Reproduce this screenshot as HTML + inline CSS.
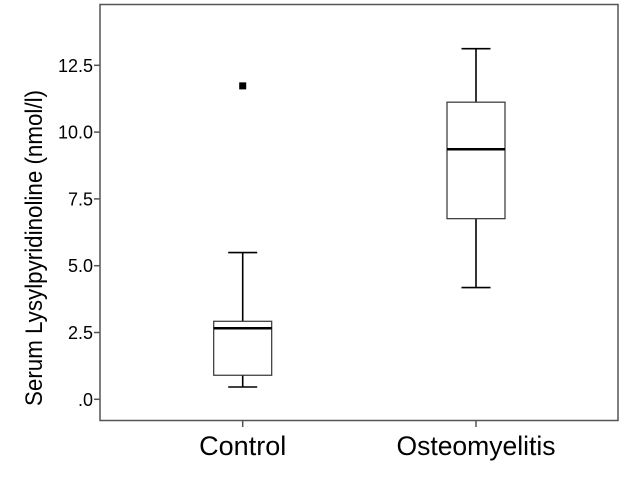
<!DOCTYPE html>
<html><head><meta charset="utf-8"><style>
html,body{margin:0;padding:0;background:#fff;}
svg{display:block;font-family:"Liberation Sans",Arial,sans-serif;}
</style></head><body>
<svg id="chart" width="626" height="501" viewBox="0 0 626 501">
  <rect x="100" y="4.5" width="518" height="416" fill="#fff" stroke="#555" stroke-width="1.5"/>
  <g id="yaxis"></g>
  <g id="xaxis"></g>
  <g id="boxes"></g>
  <text x="0" y="0" transform="translate(42,248) rotate(-90)" text-anchor="middle" font-size="24" textLength="316" lengthAdjust="spacingAndGlyphs" fill="#000">Serum Lysylpyridinoline (nmol/l)</text>
</svg>
<script>
const categories = ["Control", "Osteomyelitis"];
const whiskerLow = [0.46, 4.18];
const q1 = [0.9, 6.76];
const median = [2.66, 9.36];
const q3 = [2.92, 11.12];
const whiskerHigh = [5.49, 13.12];
const outlierCat = [0];
const outlierVal = [11.73];
const yTicks = [0, 2.5, 5, 7.5, 10, 12.5];
const yTickLabels = [".0", "2.5", "5.0", "7.5", "10.0", "12.5"];

const NS = "http://www.w3.org/2000/svg";
const y = v => 399.3 - v * 26.72;
const x = i => 242.7 + i * 233.3;
function mk(tag, attrs, parent) {
  const e = document.createElementNS(NS, tag);
  for (const k in attrs) e.setAttribute(k, attrs[k]);
  parent.appendChild(e);
  return e;
}
const ya = document.getElementById("yaxis");
yTicks.forEach((t, i) => {
  const l = mk("line", {x1: 94, x2: 100, y1: y(t), y2: y(t), stroke: "#555", "stroke-width": 1.5}, ya);
  
  
  const tx = mk("text", {x: 93, y: y(t) + 6.5, "text-anchor": "end", "font-size": 18, fill: "#000"}, ya);
  tx.textContent = yTickLabels[i];
  
  
});
const xa = document.getElementById("xaxis");
const labelSizes = [27, 26.5];
categories.forEach((c, i) => {
  const l = mk("line", {x1: x(i), x2: x(i), y1: 420.5, y2: 427, stroke: "#555", "stroke-width": 1.5}, xa);
  
  
  const tx = mk("text", {x: x(i), y: 455, "text-anchor": "middle", "font-size": labelSizes[i], fill: "#000"}, xa);
  tx.textContent = c;
  
  
});
const bx = document.getElementById("boxes");
categories.forEach((c, i) => {
  const cx = x(i);
  const g = mk("g", {}, bx);
  
  
  const s = {stroke: "#000", "stroke-width": 1.6};
  mk("line", Object.assign({x1: cx, x2: cx, y1: y(whiskerLow[i]), y2: y(q1[i])}, s), g);
  mk("line", Object.assign({x1: cx, x2: cx, y1: y(q3[i]), y2: y(whiskerHigh[i])}, s), g);
  mk("line", Object.assign({x1: cx - 14.5, x2: cx + 14.5, y1: y(whiskerLow[i]), y2: y(whiskerLow[i])}, s), g);
  mk("line", Object.assign({x1: cx - 14.5, x2: cx + 14.5, y1: y(whiskerHigh[i]), y2: y(whiskerHigh[i])}, s), g);
  mk("rect", {x: cx - 29, y: y(q3[i]), width: 58, height: y(q1[i]) - y(q3[i]), fill: "#fff", stroke: "#333", "stroke-width": 1.2}, g);
  mk("line", {x1: cx - 29, x2: cx + 29, y1: y(median[i]), y2: y(median[i]), stroke: "#000", "stroke-width": 2.5}, g);
});
outlierCat.forEach((ci, k) => {
  const r = mk("rect", {x: x(ci) - 3.5, y: y(outlierVal[k]) - 3.5, width: 7, height: 7, fill: "#000"}, bx);
  
  
});
</script>
</body></html>
